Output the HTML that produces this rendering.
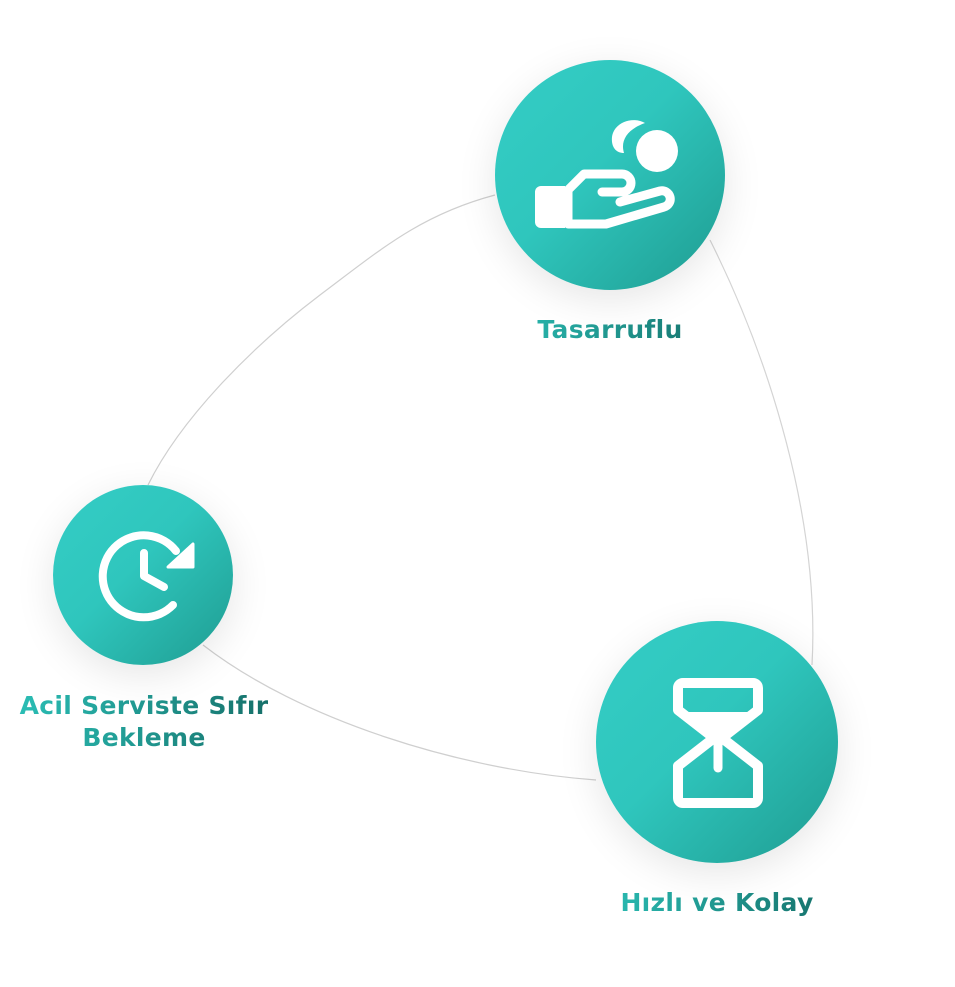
<!DOCTYPE html>
<html><head><meta charset="utf-8"><style>
body{margin:0;background:#fff;width:955px;height:987px;overflow:hidden;position:relative;font-family:"DejaVu Sans","Liberation Sans",sans-serif}
.c{position:absolute;border-radius:50%;background:linear-gradient(135deg,#34cdc5 0%,#2fc6bd 45%,#1f9c91 100%);box-shadow:0 10px 40px rgba(0,0,0,0.10)}
.t{position:absolute;font-weight:bold;font-size:25px;text-align:center;background:linear-gradient(90deg,#2cc3ba,#146a64);-webkit-background-clip:text;background-clip:text;color:transparent;line-height:32px;letter-spacing:0.3px;white-space:nowrap}
svg{position:absolute;left:0;top:0}
</style></head><body>
<svg width="955" height="987" style="z-index:0">
<path d="M495,195 C420,215 380,250 320,295 C250,348 180,420 148,485" fill="none" stroke="#cfcfcf" stroke-width="1.2"/>
<path d="M710,240 C770,360 820,520 812,665" fill="none" stroke="#d4d4d4" stroke-width="1.2"/>
<path d="M203,645 C300,720 460,770 596,780" fill="none" stroke="#cfcfcf" stroke-width="1.2"/>
</svg>
<div class="c" style="left:495px;top:60px;width:230px;height:230px"></div>
<div class="c" style="left:53px;top:485px;width:180px;height:180px"></div>
<div class="c" style="left:596px;top:621px;width:242px;height:242px"></div>
<svg width="955" height="987" style="z-index:2">
<circle cx="657" cy="151" r="21" fill="#fff"/>
<path d="M645,123 C633,116 614,122 612,137 C611,147 616,153 624,153 C620,140 628,129 645,123Z" fill="#fff"/>
<path d="M541,186 h24 v42 h-24 a6,6 0 0 1 -6,-6 v-30 a6,6 0 0 1 6,-6Z" fill="#fff"/>
<path d="M568,190 L584,174 h38 a9,9 0 0 1 0,18 h-20 M568,190 v34 h38 l58,-17 a8,8 0 0 0 -4,-16 l-40,11" fill="none" stroke="#fff" stroke-width="9" stroke-linejoin="round" stroke-linecap="round"/>
<path d="M176,551 A41,41 0 1 0 173,605" fill="none" stroke="#fff" stroke-width="8" stroke-linecap="round"/>
<path d="M193,544 v23 h-25Z" fill="#fff" stroke="#fff" stroke-width="3" stroke-linejoin="round"/>
<path d="M144,553 v23 l20,11" fill="none" stroke="#fff" stroke-width="8" stroke-linecap="round" stroke-linejoin="round"/>
<path d="M683,683 h70 a5,5 0 0 1 5,5 v22 l-36,28 l36,28 v32 a5,5 0 0 1 -5,5 h-70 a5,5 0 0 1 -5,-5 v-32 l36,-28 l-36,-28 v-22 a5,5 0 0 1 5,-5Z" fill="none" stroke="#fff" stroke-width="10" stroke-linejoin="round"/>
<path d="M680,712 h76 l-38,28Z" fill="#fff"/>
<path d="M718,740 v28" stroke="#fff" stroke-width="9" stroke-linecap="round"/>
</svg>
<div class="t" style="left:480px;top:314px;width:260px">Tasarruflu</div>
<div class="t" style="left:0px;top:690px;width:288px">Acil Serviste Sıfır<br>Bekleme</div>
<div class="t" style="left:582px;top:887px;width:270px">Hızlı ve Kolay</div>
</body></html>
